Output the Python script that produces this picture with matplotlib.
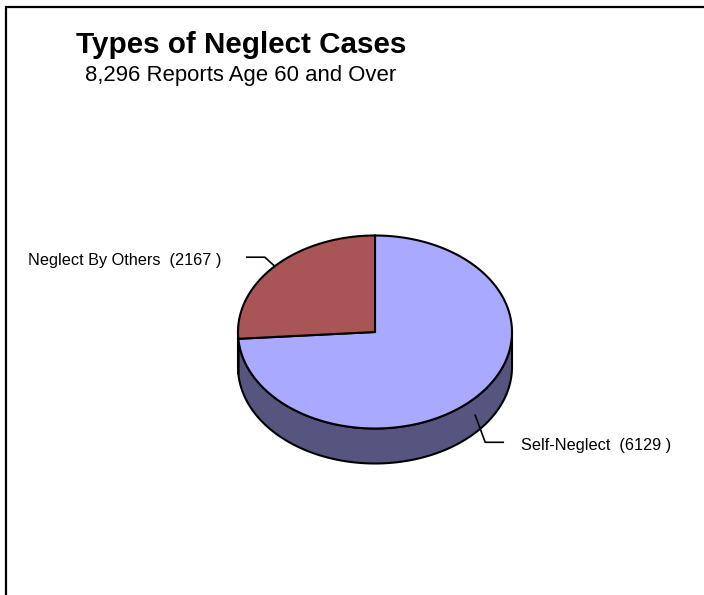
import numpy as np
import matplotlib
matplotlib.use("Agg")
from matplotlib import pyplot as plt
from matplotlib.patches import Polygon

# datos
categorias = ["Self-Neglect", "Neglect By Others"]
valores = [6129, 2167]
colores_top = ["#A9A9FF", "#A95555"]
colores_lado = ["#55557F", "#7F4040"]

titulo = "Types of Neglect Cases"
subtitulo = "8,296 Reports Age 60 and Over"

plt.rcParams['font.family'] = ['Liberation Sans', 'DejaVu Sans']

fig = plt.figure(figsize=(7.04, 5.95), dpi=100)
ax = fig.add_axes([0, 0, 1, 1])
ax.set_xlim(0, 704)
ax.set_ylim(595, 0)
ax.axis('off')

# marco (solo arriba e izquierda)
ax.plot([5.5, 704], [7, 7], color='black', lw=1.6, solid_capstyle='butt')
ax.plot([5.5, 5.5], [6, 595], color='black', lw=1.6, solid_capstyle='butt')

ax.text(241, 45, titulo, ha='center', va='center', fontsize=21.3, fontweight='bold')
ax.text(241, 75, subtitulo, ha='center', va='center', fontsize=15.9)

# pie 3d "a mano"
cx, cy = 375, 332
rx, ry = 137, 96.5
prof = 35

def punto(t, dy=0):
    t = np.radians(t)
    return cx + rx * np.cos(t), cy - ry * np.sin(t) + dy

total = sum(valores)
angulos = []
inicio = 90.0
for v in valores:
    fin = inicio - 360.0 * v / total
    angulos.append((fin, inicio))
    inicio = fin

# lados (solo la mitad de adelante: 180..360)
for (a1, a2), col in zip(angulos, colores_lado):
    lo, hi = a1 % 360, a2 % 360
    if hi <= lo:
        hi += 360
    for off in (0, 360, -360):
        l = max(lo + off, 180)
        h = min(hi + off, 360)
        if h > l:
            ts = np.linspace(l, h, 100)
            arriba = [punto(t) for t in ts]
            abajo = [punto(t, prof) for t in ts[::-1]]
            ax.add_patch(Polygon(arriba + abajo, closed=True, facecolor=col,
                                 edgecolor='black', lw=1.5, joinstyle='round'))

# caras de arriba
for (a1, a2), col in zip(angulos, colores_top):
    ts = np.linspace(a1, a2, 200)
    pts = [(cx, cy)] + [punto(t) for t in ts]
    ax.add_patch(Polygon(pts, closed=True, facecolor=col, edgecolor='black',
                         lw=1.5, joinstyle='miter'))

# etiquetas con lineas guia
for (a1, a2), cat, v in zip(angulos, categorias, valores):
    mid = (a1 + a2) / 2
    frente = np.sin(np.radians(mid)) < 0
    x0, y0 = punto(mid, prof / 2 if frente else 0)
    if np.cos(np.radians(mid)) >= 0:
        x1, y1 = x0 + 10, y0 + 27
        x2 = x1 + 18
        ax.plot([x0, x1, x2], [y0, y1, y1], color='black', lw=1.2)
        ax.text(x2 + 18, y1 + 3, f"{cat}  ({v} )", ha='left', va='center', fontsize=11.7)
    else:
        x1, y1 = x0 - 10, y0 - 9
        x2 = x1 - 18
        ax.plot([x0, x1, x2], [y0, y1, y1], color='black', lw=1.2)
        ax.text(x2 - 25, y1 + 3, f"{cat}  ({v} )", ha='right', va='center', fontsize=11.7)

fig.savefig("out.png", dpi=100)
